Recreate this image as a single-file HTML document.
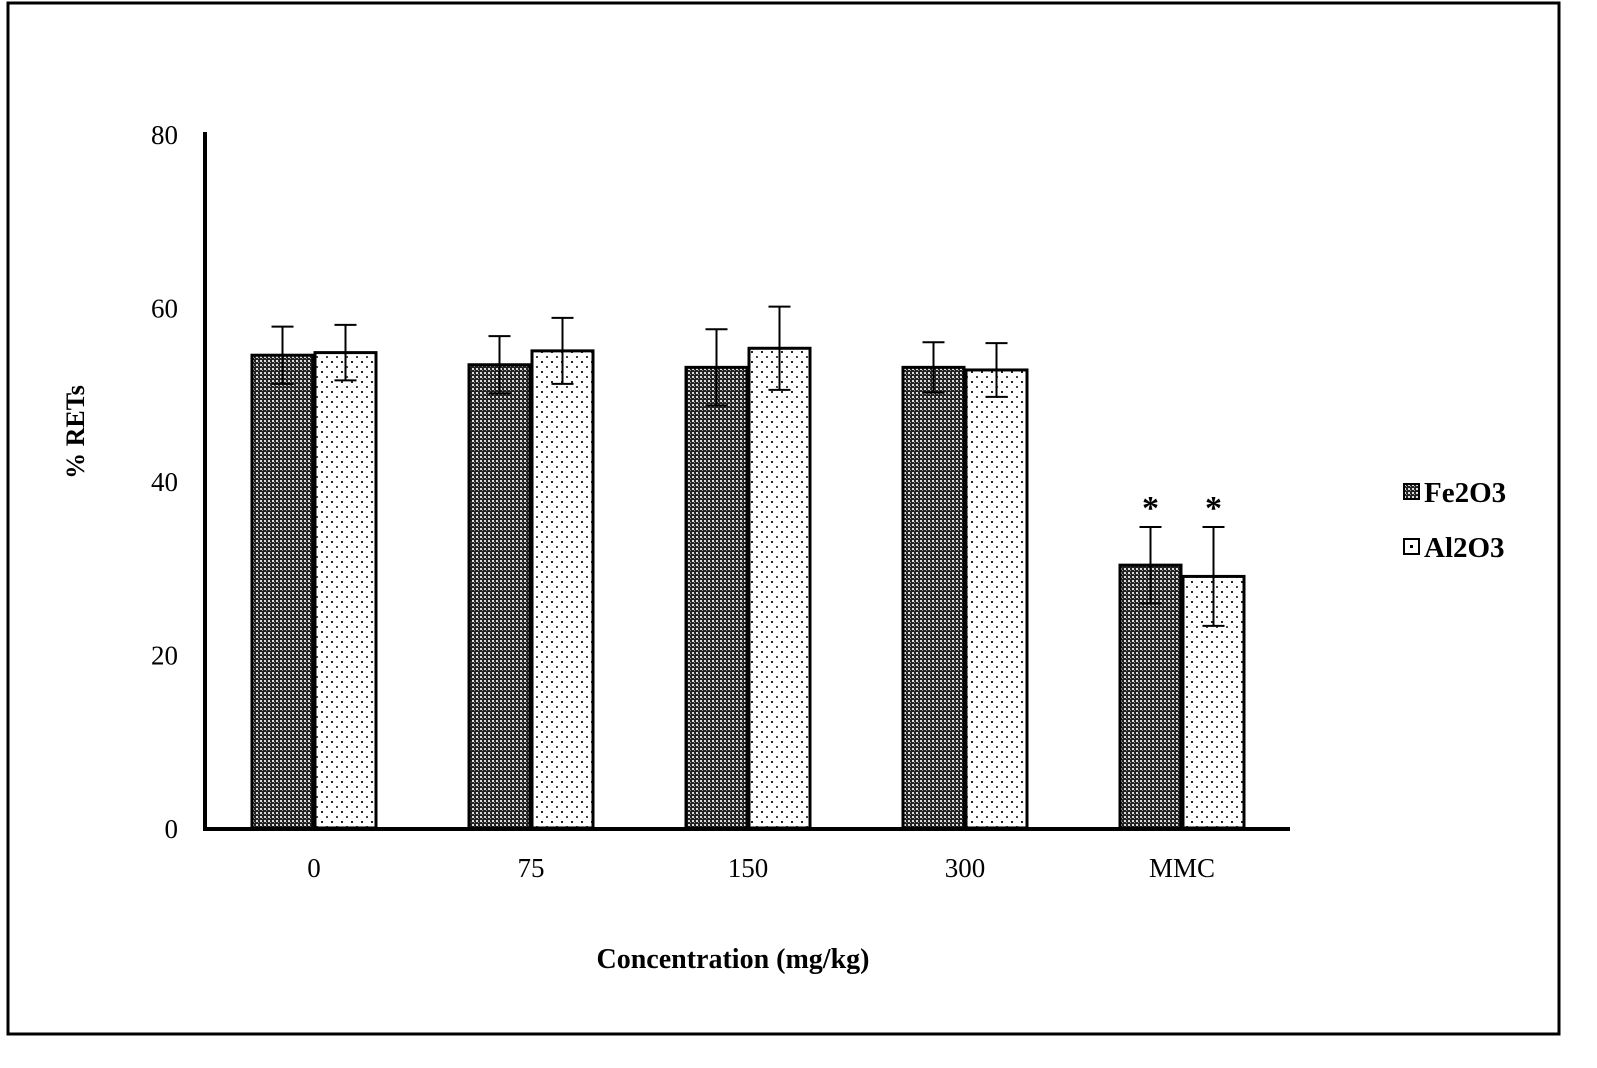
<!DOCTYPE html>
<html><head><meta charset="utf-8"><style>
body{margin:0;background:#fff;overflow:hidden;}
svg{display:block;font-family:"Liberation Serif",serif;}
</style></head><body>
<svg width="1597" height="1068" xmlns="http://www.w3.org/2000/svg">
<defs>
<pattern id="pFe" width="4" height="4" patternUnits="userSpaceOnUse">
<rect width="4" height="4" fill="#222"/><rect x="0" y="0" width="2" height="2" fill="#ddd"/><rect x="2" y="2" width="1" height="1" fill="#999"/>
</pattern>
<pattern id="pAl" width="10" height="10" patternUnits="userSpaceOnUse">
<rect width="10" height="10" fill="#fff"/><rect x="1" y="1" width="2" height="2" fill="#222"/><rect x="6" y="6" width="2" height="2" fill="#444"/>
</pattern>
</defs>
<rect x="8" y="3" width="1551" height="1031" fill="none" stroke="#000" stroke-width="3"/>
<g id="plot"></g>
<text x="84" y="432" font-size="26" font-weight="bold" text-anchor="middle" transform="rotate(-90 84 432)">% RETs</text>
<text x="733" y="968" font-size="28" font-weight="bold" text-anchor="middle">Concentration (mg/kg)</text>
<g>
<g>
<rect x="1404" y="484" width="15" height="15" fill="url(#pFe)" stroke="#000" stroke-width="2"/>
<text x="1424" y="502" font-size="29" font-weight="bold">Fe2O3</text></g>
<g>
<rect x="1404" y="539" width="15" height="15" fill="#fff" stroke="#000" stroke-width="2"/>
<rect x="1410" y="545" width="3" height="3" fill="#000"/>
<text x="1424" y="557" font-size="29" font-weight="bold">Al2O3</text></g>
</g>
</svg>
<script>
const categories=["0","75","150","300","MMC"];
const fe=[54.5,53.4,53.1,53.1,30.3];
const feErr=[3.3,3.3,4.4,2.9,4.4];
const al=[54.8,55.0,55.3,52.8,29.0];
const alErr=[3.2,3.8,4.8,3.1,5.7];
const yTicks=[0,20,40,60,80];
const sig=["","","","","*"];
const NS="http://www.w3.org/2000/svg";
const g=document.getElementById('plot');
const y0=828,yTop=134,ymax=80;
const y=v=>y0-(y0-yTop)*v/ymax;
const xc=i=>314+217*i;
function el(t,a){const e=document.createElementNS(NS,t);for(const k in a)e.setAttribute(k,a[k]);g.appendChild(e);return e;}
yTicks.forEach(t=>{const e=el('text',{x:178,y:y(t)+10,'font-size':27,'text-anchor':'end'});e.textContent=t;

});
const series=[[fe,feErr,'url(#pFe)',-62,'fe2o3'],[al,alErr,'url(#pAl)',1,'al2o3']];
categories.forEach((c,i)=>{
 series.forEach(([v,er,fill,off,nm])=>{
  const x=xc(i)+off;
  const r=el('rect',{x:x,y:y(v[i]),width:61,height:y0-y(v[i]),fill:fill,stroke:'#000','stroke-width':3});
  
  
  const cx=x+30.5;
  const l=el('path',{d:`M${cx} ${y(v[i]+er[i])}V${y(v[i]-er[i])}M${cx-11} ${y(v[i]+er[i])}H${cx+11}M${cx-11} ${y(v[i]-er[i])}H${cx+11}`,stroke:'#000','stroke-width':2,fill:'none'});
  
  
  if(sig[i]){const s=el('text',{x:cx,y:y(v[i]+er[i])-8,'font-size':34,'font-weight':'bold','text-anchor':'middle'});s.textContent=sig[i];
  
  }
 });
 const t=el('text',{x:xc(i),y:877,'font-size':27,'text-anchor':'middle'});t.textContent=c;
 
 
});
const ya=el('line',{x1:205,y1:132,x2:205,y2:830,stroke:'#000','stroke-width':4});


const xa=el('line',{x1:203,y1:829,x2:1290,y2:829,stroke:'#000','stroke-width':4});


</script>
</body></html>
